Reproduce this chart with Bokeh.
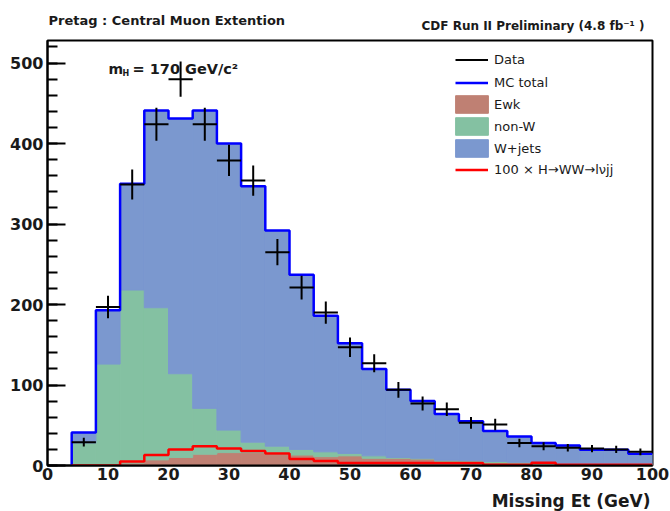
import numpy as np
from bokeh.plotting import figure
from bokeh.layouts import column
from bokeh.models import (ColumnDataSource, Range1d, SingleIntervalTicker,
                          Label, Legend, LegendItem)
from bokeh.embed import file_html
from bokeh.resources import INLINE

# Missing Et histogram, 4 GeV bins from 4 to 100 GeV (pretag, CMX muons)
BIN_WIDTH = 4
bin_low = [4, 8, 12, 16, 20, 24, 28, 32, 36, 40, 44, 48,
           52, 56, 60, 64, 68, 72, 76, 80, 84, 88, 92, 96]

# stacked background expectation (events per bin)
ewk = [0, 0, 3, 7, 10, 14, 16, 16, 14, 13, 11, 12,
       9, 9, 8, 5, 5, 3, 2, 2, 1.5, 1, 1, 1]
non_w = [28, 126, 215, 189, 104, 57, 28, 13, 10, 7, 6, 3,
         3, 1, 1, 1.5, 1, 2, 2, 1, 1, 1, 1, 0.5]
w_jets = [13, 67, 132, 245, 317, 370, 356, 318, 268, 217, 169, 137,
          108, 84, 71, 57.5, 49, 38, 32, 25, 22.5, 17.5, 17.5, 13]

# signal, H -> WW -> l nu jj scaled by 100 (mH = 170 GeV/c^2)
higgs_x100 = [0, 0, 5, 13, 20, 24, 21, 18, 15, 8, 5.5, 3,
              3, 3, 3, 3, 3, 1, 1, 3.3, 1, 1, 1, 1]

# observed events
data_counts = [29, 197, 349, 424, 480, 424, 379, 354, 265, 221, 190, 147,
               127, 94, 77, 70, 53, 51, 28, 24, 22, 21, 20, 17]

C_EWK = "#bf8073"
C_NONW = "#84c1a2"
C_WJETS = "#7b98cf"
FONT = "DejaVu Sans"
INK = "#1a1a1a"

FRAME_LEFT, FRAME_RIGHT = 47, 652   # horizontal extent of the plotting frame
HEADER_H = 38                        # strip above the plot with the titles
FOOTER_H = 24                        # strip below the plot with the axis title

low = np.array(bin_low, dtype=float)
high = low + BIN_WIDTH
center = low + BIN_WIDTH / 2
mc_total = np.array(ewk) + np.array(non_w) + np.array(w_jets)
edges = np.append(low, high[-1])


def step_outline(values):
    """Histogram outline: rises from zero at the first edge, stops at the last edge."""
    xs = np.repeat(edges, 2)[:-1]
    ys = np.concatenate([[0.0], np.repeat(np.asarray(values, dtype=float), 2)])
    return xs, ys


def text_strip(height):
    """Blank strip whose x coordinates are page pixels, y measured downwards."""
    s = figure(width=670, height=height, title=None,
               x_range=Range1d(FRAME_LEFT, FRAME_RIGHT), y_range=Range1d(height, 0),
               output_backend="svg", toolbar_location=None,
               x_axis_location=None, y_axis_location=None,
               min_border_left=FRAME_LEFT, min_border_right=670 - FRAME_RIGHT,
               min_border_top=0, min_border_bottom=0)
    s.grid.visible = False
    s.outline_line_color = None
    s.background_fill_color = "white"
    s.border_fill_color = "white"
    return s


# ---- header with the two titles ----
head = text_strip(HEADER_H)
head.add_layout(Label(text="Pretag : Central Muon Extention", x=48, y=20,
                      text_font=FONT, text_font_style="bold",
                      text_font_size="13px", text_color=INK,
                      text_baseline="alphabetic"))
head.add_layout(Label(text="CDF Run II Preliminary (4.8 fb⁻¹ )", x=421, y=25,
                      text_font=FONT, text_font_style="bold",
                      text_font_size="12px", text_color=INK,
                      text_baseline="alphabetic"))

# ---- footer with the x-axis title, right-aligned to the frame ----
foot = text_strip(FOOTER_H)
foot.add_layout(Label(text="Missing Et (GeV)", x=650, y=13,
                      text_font=FONT, text_font_style="bold",
                      text_font_size="17px", text_color=INK,
                      text_align="right", text_baseline="alphabetic"))

# ---- main histogram ----
p = figure(width=670, height=511 - HEADER_H - FOOTER_H, title=None,
           x_range=Range1d(0, 100), y_range=Range1d(0, 528),
           output_backend="svg", toolbar_location=None,
           min_border_left=FRAME_LEFT, min_border_right=670 - FRAME_RIGHT,
           min_border_top=40 - HEADER_H, min_border_bottom=22)
p.background_fill_color = "white"
p.border_fill_color = "white"
p.grid.visible = False
p.outline_line_color = "black"
p.outline_line_width = 2

# stacked backgrounds
src = ColumnDataSource(dict(center=center, ewk=ewk, non_w=non_w, w_jets=w_jets))
stack = p.vbar_stack(["ewk", "non_w", "w_jets"], x="center", width=BIN_WIDTH,
                     source=src,
                     fill_color=[C_EWK, C_NONW, C_WJETS],
                     line_color=[C_EWK, C_NONW, C_WJETS],
                     line_width=1)

# MC total and signal outlines
mx, my = step_outline(mc_total)
mc_line = p.line(mx, my, line_color="#0000ff", line_width=2.5)
sx, sy = step_outline(higgs_x100)
sig_line = p.line(sx, sy, line_color="#ff0000", line_width=2.5)

# data points with Poisson errors
counts = np.array(data_counts, dtype=float)
err = np.sqrt(counts)
dsrc = ColumnDataSource(dict(x0=low, x1=high, xc=center, y=counts,
                             ylo=counts - err, yhi=counts + err))
data_h = p.segment(x0="x0", y0="y", x1="x1", y1="y", source=dsrc,
                   line_color="black", line_width=2)
p.segment(x0="xc", y0="ylo", x1="xc", y1="yhi", source=dsrc,
          line_color="black", line_width=2)

# axes
yax = p.yaxis[0]
yax.ticker = SingleIntervalTicker(interval=100, num_minor_ticks=5)
yax.major_tick_in = 18
yax.major_tick_out = 0
yax.minor_tick_in = 10
yax.minor_tick_out = 0
yax.major_tick_line_width = 2
yax.minor_tick_line_width = 2
yax.major_label_standoff = 4

xax = p.xaxis[0]
xax.ticker = SingleIntervalTicker(interval=10, num_minor_ticks=5)
xax.major_tick_in = 0
xax.major_tick_out = 0
xax.minor_tick_in = 0
xax.minor_tick_out = 0
xax.major_label_standoff = 2

for ax in (xax, yax):
    ax.axis_line_width = 2
    ax.axis_line_color = "black"
    ax.major_tick_line_color = "black"
    ax.minor_tick_line_color = "black"
    ax.major_label_text_font = FONT
    ax.major_label_text_font_style = "bold"
    ax.major_label_text_font_size = "16px"
    ax.major_label_text_color = INK

# legends: line entries, filled boxes, signal line
common = dict(padding=0, margin=0, border_line_alpha=0, background_fill_alpha=0,
              label_text_font=FONT, label_text_font_size="13px",
              label_text_color=INK)
leg_lines = Legend(items=[LegendItem(label="Data", renderers=[data_h]),
                          LegendItem(label="MC total", renderers=[mc_line])],
                   location=(408, 374), glyph_width=33, glyph_height=17,
                   label_height=17, spacing=6, label_standoff=6, **common)
leg_boxes = Legend(items=[LegendItem(label="Ewk", renderers=[stack[0]]),
                          LegendItem(label="non-W", renderers=[stack[1]]),
                          LegendItem(label="W+jets", renderers=[stack[2]])],
                   location=(404, 306), glyph_width=41, glyph_height=22,
                   label_height=22, spacing=0, label_standoff=2, **common)
leg_sig = Legend(items=[LegendItem(label="100 × H→WW→lνjj", renderers=[sig_line])],
                 location=(408, 287), glyph_width=33, glyph_height=17,
                 label_height=17, spacing=0, label_standoff=6, **common)
for leg in (leg_lines, leg_boxes, leg_sig):
    p.add_layout(leg)


# Higgs mass label inside the frame (screen units from the frame's bottom-left)
def add_text(text, x, y, size):
    p.add_layout(Label(text=text, x=x, y=y, x_units="screen", y_units="screen",
                       text_font=FONT, text_font_style="bold",
                       text_font_size=size, text_align="left",
                       text_baseline="alphabetic", text_color=INK))


add_text("m", 61, 397, "14px")
add_text("H", 75, 392, "8px")
add_text("= 170 GeV/c²", 85, 397, "14.5px")

open("out.html", "w").write(file_html(column(head, p, foot, spacing=0), INLINE,
                                      title="Missing Et"))
